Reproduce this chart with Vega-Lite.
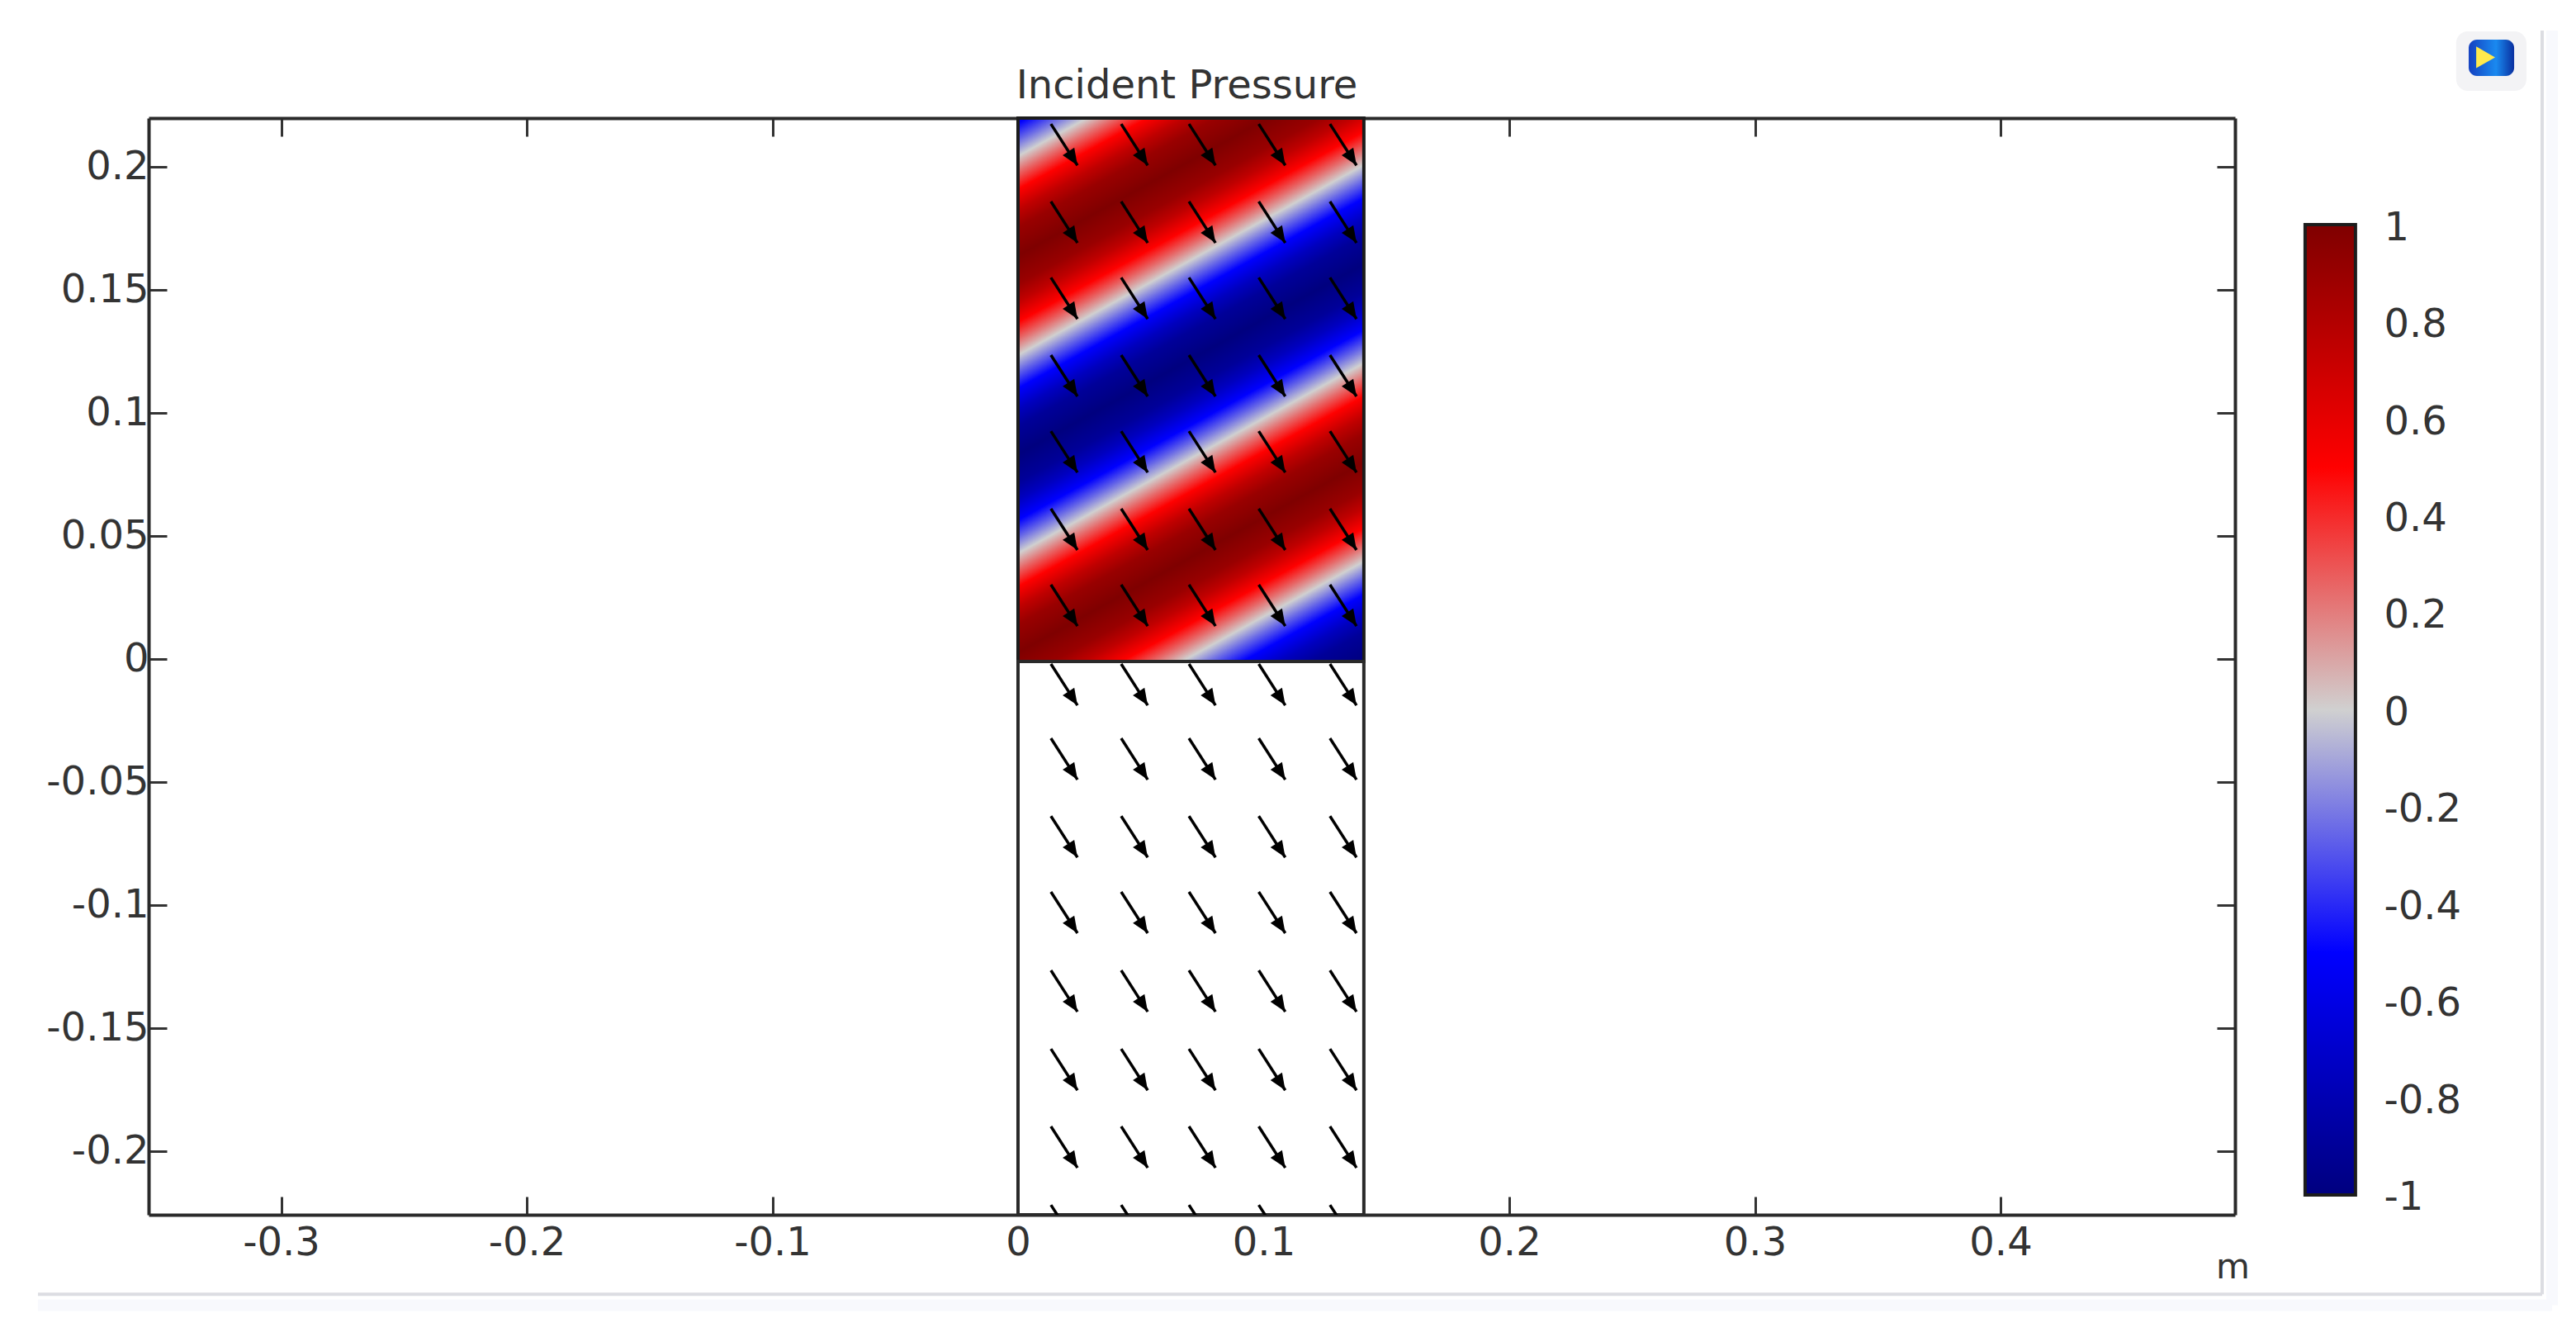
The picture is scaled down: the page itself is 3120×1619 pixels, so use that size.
{
  "$schema": "https://vega.github.io/schema/vega-lite/v6.json",
  "width": 2527,
  "height": 1328,
  "autosize": {"type": "none"},
  "padding": {"left": 180, "top": 143, "right": 413, "bottom": 148},
  "background": "white",
  "config": {
    "view": {"stroke": null},
    "axis": {
      "grid": false, "title": null, "zindex": 1,
      "labelFont": "DejaVu Sans", "labelFontSize": 48, "labelColor": "#333333",
      "labelOverlap": false, "labelBound": false, "labelFlush": false,
      "domainColor": "#2a2a2a", "domainWidth": 4,
      "tickColor": "#333333", "tickWidth": 3, "tickSize": -22
    }
  },
  "datasets": {
    "arrows": [
      {"x":0.0134,"y":0.2174,"xe":0.0242,"ye":0.2006},{"x":0.042,"y":0.2174,"xe":0.0528,"ye":0.2006},{"x":0.0696,"y":0.2174,"xe":0.0804,"ye":0.2006},{"x":0.098,"y":0.2174,"xe":0.1088,"ye":0.2006},{"x":0.127,"y":0.2174,"xe":0.1378,"ye":0.2006},
      {"x":0.0134,"y":0.1859,"xe":0.0242,"ye":0.1691},{"x":0.042,"y":0.1859,"xe":0.0528,"ye":0.1691},{"x":0.0696,"y":0.1859,"xe":0.0804,"ye":0.1691},{"x":0.098,"y":0.1859,"xe":0.1088,"ye":0.1691},{"x":0.127,"y":0.1859,"xe":0.1378,"ye":0.1691},
      {"x":0.0134,"y":0.155,"xe":0.0242,"ye":0.1382},{"x":0.042,"y":0.155,"xe":0.0528,"ye":0.1382},{"x":0.0696,"y":0.155,"xe":0.0804,"ye":0.1382},{"x":0.098,"y":0.155,"xe":0.1088,"ye":0.1382},{"x":0.127,"y":0.155,"xe":0.1378,"ye":0.1382},
      {"x":0.0134,"y":0.1235,"xe":0.0242,"ye":0.1067},{"x":0.042,"y":0.1235,"xe":0.0528,"ye":0.1067},{"x":0.0696,"y":0.1235,"xe":0.0804,"ye":0.1067},{"x":0.098,"y":0.1235,"xe":0.1088,"ye":0.1067},{"x":0.127,"y":0.1235,"xe":0.1378,"ye":0.1067},
      {"x":0.0134,"y":0.0926,"xe":0.0242,"ye":0.0758},{"x":0.042,"y":0.0926,"xe":0.0528,"ye":0.0758},{"x":0.0696,"y":0.0926,"xe":0.0804,"ye":0.0758},{"x":0.098,"y":0.0926,"xe":0.1088,"ye":0.0758},{"x":0.127,"y":0.0926,"xe":0.1378,"ye":0.0758},
      {"x":0.0134,"y":0.0611,"xe":0.0242,"ye":0.0443},{"x":0.042,"y":0.0611,"xe":0.0528,"ye":0.0443},{"x":0.0696,"y":0.0611,"xe":0.0804,"ye":0.0443},{"x":0.098,"y":0.0611,"xe":0.1088,"ye":0.0443},{"x":0.127,"y":0.0611,"xe":0.1378,"ye":0.0443},
      {"x":0.0134,"y":0.0302,"xe":0.0242,"ye":0.0134},{"x":0.042,"y":0.0302,"xe":0.0528,"ye":0.0134},{"x":0.0696,"y":0.0302,"xe":0.0804,"ye":0.0134},{"x":0.098,"y":0.0302,"xe":0.1088,"ye":0.0134},{"x":0.127,"y":0.0302,"xe":0.1378,"ye":0.0134},
      {"x":0.0134,"y":-0.002,"xe":0.0242,"ye":-0.0188},{"x":0.042,"y":-0.002,"xe":0.0528,"ye":-0.0188},{"x":0.0696,"y":-0.002,"xe":0.0804,"ye":-0.0188},{"x":0.098,"y":-0.002,"xe":0.1088,"ye":-0.0188},{"x":0.127,"y":-0.002,"xe":0.1378,"ye":-0.0188},
      {"x":0.0134,"y":-0.0322,"xe":0.0242,"ye":-0.049},{"x":0.042,"y":-0.0322,"xe":0.0528,"ye":-0.049},{"x":0.0696,"y":-0.0322,"xe":0.0804,"ye":-0.049},{"x":0.098,"y":-0.0322,"xe":0.1088,"ye":-0.049},{"x":0.127,"y":-0.0322,"xe":0.1378,"ye":-0.049},
      {"x":0.0134,"y":-0.0638,"xe":0.0242,"ye":-0.0806},{"x":0.042,"y":-0.0638,"xe":0.0528,"ye":-0.0806},{"x":0.0696,"y":-0.0638,"xe":0.0804,"ye":-0.0806},{"x":0.098,"y":-0.0638,"xe":0.1088,"ye":-0.0806},{"x":0.127,"y":-0.0638,"xe":0.1378,"ye":-0.0806},
      {"x":0.0134,"y":-0.0946,"xe":0.0242,"ye":-0.1114},{"x":0.042,"y":-0.0946,"xe":0.0528,"ye":-0.1114},{"x":0.0696,"y":-0.0946,"xe":0.0804,"ye":-0.1114},{"x":0.098,"y":-0.0946,"xe":0.1088,"ye":-0.1114},{"x":0.127,"y":-0.0946,"xe":0.1378,"ye":-0.1114},
      {"x":0.0134,"y":-0.1265,"xe":0.0242,"ye":-0.1433},{"x":0.042,"y":-0.1265,"xe":0.0528,"ye":-0.1433},{"x":0.0696,"y":-0.1265,"xe":0.0804,"ye":-0.1433},{"x":0.098,"y":-0.1265,"xe":0.1088,"ye":-0.1433},{"x":0.127,"y":-0.1265,"xe":0.1378,"ye":-0.1433},
      {"x":0.0134,"y":-0.1584,"xe":0.0242,"ye":-0.1752},{"x":0.042,"y":-0.1584,"xe":0.0528,"ye":-0.1752},{"x":0.0696,"y":-0.1584,"xe":0.0804,"ye":-0.1752},{"x":0.098,"y":-0.1584,"xe":0.1088,"ye":-0.1752},{"x":0.127,"y":-0.1584,"xe":0.1378,"ye":-0.1752},
      {"x":0.0134,"y":-0.1899,"xe":0.0242,"ye":-0.2067},{"x":0.042,"y":-0.1899,"xe":0.0528,"ye":-0.2067},{"x":0.0696,"y":-0.1899,"xe":0.0804,"ye":-0.2067},{"x":0.098,"y":-0.1899,"xe":0.1088,"ye":-0.2067},{"x":0.127,"y":-0.1899,"xe":0.1378,"ye":-0.2067},
      {"x":0.0134,"y":-0.2218,"xe":0.0242,"ye":-0.2386},{"x":0.042,"y":-0.2218,"xe":0.0528,"ye":-0.2386},{"x":0.0696,"y":-0.2218,"xe":0.0804,"ye":-0.2386},{"x":0.098,"y":-0.2218,"xe":0.1088,"ye":-0.2386},{"x":0.127,"y":-0.2218,"xe":0.1378,"ye":-0.2386}
    ],
    "colorbarTicks": [
      {"v":0.8},{"v":0.6},{"v":0.4},{"v":0.2},{"v":0},{"v":-0.2},{"v":-0.4},{"v":-0.6},{"v":-0.8}
    ]
  },
  "layer": [
    {
      "encoding": {
        "x": {"field": "x", "type": "quantitative", "axis": null, "scale": {"domain": [-0.35395, 0.49546], "nice": false, "zero": false}},
        "y": {"field": "y", "type": "quantitative", "axis": null, "scale": {"domain": [-0.2258, 0.2198], "nice": false, "zero": false}}
      },
      "layer": [
        {
          "data": {"values": [{"x": 0.6245, "y": 0.2554, "x2": 0.6245, "y2": -0.2625}, {"x": -0.399, "y": -0.2625, "x2": 0.6245, "y2": -0.2625}]},
          "mark": {"type": "rule", "stroke": "#f8f9fd", "strokeWidth": 14},
          "encoding": {"x2": {"field": "x2"}, "y2": {"field": "y2"}}
        },
        {
          "data": {"values": [{"x": 0.6205, "y": 0.2554, "x2": 0.6205, "y2": -0.2581}, {"x": -0.399, "y": -0.2581, "x2": 0.6205, "y2": -0.2581}]},
          "mark": {"type": "rule", "stroke": "#dcdde2", "strokeWidth": 4},
          "encoding": {"x2": {"field": "x2"}, "y2": {"field": "y2"}}
        },
        {
          "data": {"values": [{"x": 0.5855, "x2": 0.6141, "y": 0.255, "y2": 0.2309}]},
          "mark": {"type": "rect", "fill": "#f3f3f5", "cornerRadius": 14},
          "encoding": {"x2": {"field": "x2"}, "y2": {"field": "y2"}}
        },
        {
          "data": {"values": [{"x": 0.5906, "x2": 0.6091, "y": 0.2517, "y2": 0.2369}]},
          "mark": {"type": "rect", "cornerRadius": 10, "fill": {"gradient": "linear", "x1": 0, "y1": 0, "x2": 1, "y2": 0, "stops": [{"offset": 0, "color": "#1440c0"}, {"offset": 0.6, "color": "#1a8af0"}, {"offset": 1, "color": "#0a30a0"}]}},
          "encoding": {"x2": {"field": "x2"}, "y2": {"field": "y2"}}
        },
        {
          "data": {"values": [{"x": 0.5975, "y": 0.2445}]},
          "mark": {"type": "point", "shape": "triangle-right", "filled": true, "fill": "#ffe94d", "opacity": 1, "size": 700}
        },
        {
          "data": {"values": [{"x": 0, "x2": 0.1408, "y": 0.2198, "y2": -0.001}]},
          "mark": {"type": "rect", "stroke": "#1c1c1c", "strokeWidth": 4, "fill": {"gradient": "linear", "x1": 0, "y1": 0, "x2": 0.421, "y2": 1.203, "stops": [
            {"offset": 0, "color": "#0000ef"}, {"offset": 0.0068, "color": "#0000ff"}, {"offset": 0.0299, "color": "#6868e7"}, {"offset": 0.0518, "color": "#d0d0d0"},
            {"offset": 0.0736, "color": "#e76868"}, {"offset": 0.097, "color": "#ff0000"}, {"offset": 0.1249, "color": "#bf0000"}, {"offset": 0.1486, "color": "#990000"},
            {"offset": 0.1874, "color": "#7f0000"}, {"offset": 0.2262, "color": "#990000"}, {"offset": 0.2499, "color": "#bf0000"}, {"offset": 0.2778, "color": "#ff0000"},
            {"offset": 0.3012, "color": "#e76868"}, {"offset": 0.323, "color": "#d0d0d0"}, {"offset": 0.3449, "color": "#6868e7"}, {"offset": 0.3683, "color": "#0000ff"},
            {"offset": 0.3962, "color": "#0000bf"}, {"offset": 0.4198, "color": "#000099"}, {"offset": 0.4581, "color": "#00007f"}, {"offset": 0.4963, "color": "#000099"},
            {"offset": 0.52, "color": "#0000bf"}, {"offset": 0.5479, "color": "#0000ff"}, {"offset": 0.5713, "color": "#6868e7"}, {"offset": 0.5931, "color": "#d0d0d0"},
            {"offset": 0.615, "color": "#e76868"}, {"offset": 0.6384, "color": "#ff0000"}, {"offset": 0.6663, "color": "#bf0000"}, {"offset": 0.6899, "color": "#990000"},
            {"offset": 0.7282, "color": "#7f0000"}, {"offset": 0.7665, "color": "#990000"}, {"offset": 0.7901, "color": "#bf0000"}, {"offset": 0.818, "color": "#ff0000"},
            {"offset": 0.8414, "color": "#e76868"}, {"offset": 0.8633, "color": "#d0d0d0"}, {"offset": 0.8851, "color": "#6868e7"}, {"offset": 0.9085, "color": "#0000ff"},
            {"offset": 0.9364, "color": "#0000bf"}, {"offset": 0.96, "color": "#000099"}, {"offset": 0.9983, "color": "#00007f"}, {"offset": 1, "color": "#00007f"}
          ]}},
          "encoding": {"x2": {"field": "x2"}, "y2": {"field": "y2"}}
        },
        {
          "data": {"values": [{"x": 0, "x2": 0.1408, "y": -0.001, "y2": -0.2258}]},
          "mark": {"type": "rect", "fill": "#ffffff", "stroke": "#2a2a2a", "strokeWidth": 4},
          "encoding": {"x2": {"field": "x2"}, "y2": {"field": "y2"}}
        },
        {
          "data": {"name": "arrows"},
          "mark": {"type": "rule", "stroke": "#000000", "strokeWidth": 3.5, "clip": true},
          "encoding": {"x2": {"field": "xe"}, "y2": {"field": "ye"}}
        },
        {
          "data": {"name": "arrows"},
          "mark": {"type": "point", "filled": true, "fill": "#000000", "opacity": 1, "clip": true, "size": 1600, "angle": 147, "shape": "M0,0L-0.42,1L0.42,1Z"},
          "encoding": {
            "x": {"field": "xe", "type": "quantitative"},
            "y": {"field": "ye", "type": "quantitative"}
          }
        }
      ]
    },
    {
      "data": {"values": [{"x": 0, "y": 0}]},
      "mark": {"type": "point", "opacity": 0},
      "encoding": {
        "x": {"field": "x", "type": "quantitative", "scale": {"domain": [-0.35395, 0.49546], "nice": false, "zero": false},
          "axis": {"orient": "bottom", "values": [-0.3, -0.2, -0.1, 0, 0.1, 0.2, 0.3, 0.4], "labelExpr": "'' + datum.value", "labelPadding": 32,
            "title": "m", "titleFont": "DejaVu Sans", "titleFontSize": 42, "titleFontWeight": "normal", "titleColor": "#333333", "titleX": 2524, "titleY": 76, "titleAlign": "center", "titleBaseline": "alphabetic"}},
        "y": {"field": "y", "type": "quantitative", "scale": {"domain": [-0.2258, 0.2198], "nice": false, "zero": false},
          "axis": {"orient": "left", "values": [0.2, 0.15, 0.1, 0.05, 0, -0.05, -0.1, -0.15, -0.2], "labelExpr": "'' + datum.value", "labelPadding": 22}}
      }
    },
    {
      "data": {"values": [{"x": 0, "y": 0}]},
      "mark": {"type": "point", "opacity": 0},
      "encoding": {
        "x": {"field": "x", "type": "quantitative", "scale": {"domain": [-0.35395, 0.49546], "nice": false, "zero": false},
          "axis": {"orient": "top", "values": [-0.3, -0.2, -0.1, 0, 0.1, 0.2, 0.3, 0.4], "labels": false,
            "title": "Incident Pressure", "titleFont": "DejaVu Sans", "titleFontSize": 48, "titleFontWeight": "normal", "titleColor": "#333333", "titleX": 1257, "titleY": -25, "titleAlign": "center", "titleBaseline": "alphabetic"}},
        "y": {"field": "y", "type": "quantitative", "scale": {"domain": [-0.2258, 0.2198], "nice": false, "zero": false},
          "axis": {"orient": "right", "values": [0.2, 0.15, 0.1, 0.05, 0, -0.05, -0.1, -0.15, -0.2], "labels": false}}
      }
    },
    {
      "encoding": {
        "x": {"field": "x", "type": "quantitative", "axis": null, "scale": {"domain": [-0.35395, 0.49546], "nice": false, "zero": false}},
        "y": {"field": "v", "type": "quantitative", "scale": {"domain": [-1.0409, 1.2196], "nice": false, "zero": false},
          "axis": {"orient": "right", "offset": 146, "values": [1, 0.8, 0.6, 0.4, 0.2, 0, -0.2, -0.4, -0.6, -0.8, -1], "labelExpr": "'' + datum.value", "labelPadding": 34, "labelOffset": 4, "domain": false, "ticks": false}}
      },
      "layer": [
        {
          "data": {"values": [{"x": 0.524, "x2": 0.5445, "v": 1, "v2": -1}]},
          "mark": {"type": "rect", "stroke": "#1c1c1c", "strokeWidth": 4, "fill": {"gradient": "linear", "x1": 0, "y1": 0, "x2": 0, "y2": 1, "stops": [
            {"offset": 0, "color": "#7f0000"}, {"offset": 0.25, "color": "#ff0000"}, {"offset": 0.5, "color": "#d0d0d0"}, {"offset": 0.75, "color": "#0000ff"}, {"offset": 1, "color": "#00007f"}
          ]}},
          "encoding": {"x2": {"field": "x2"}, "y2": {"field": "v2"}}
        },
        {
          "data": {"name": "colorbarTicks"},
          "mark": {"type": "rule", "stroke": "#1c1c1c", "strokeWidth": 3},
          "encoding": {"x": {"datum": 0.524, "type": "quantitative"}, "x2": {"datum": 0.5285}}
        },
        {
          "data": {"name": "colorbarTicks"},
          "mark": {"type": "rule", "stroke": "#1c1c1c", "strokeWidth": 3},
          "encoding": {"x": {"datum": 0.5397, "type": "quantitative"}, "x2": {"datum": 0.5445}}
        }
      ]
    }
  ],
  "resolve": {"scale": {"y": "independent"}, "axis": {"x": "independent", "y": "independent"}}
}
